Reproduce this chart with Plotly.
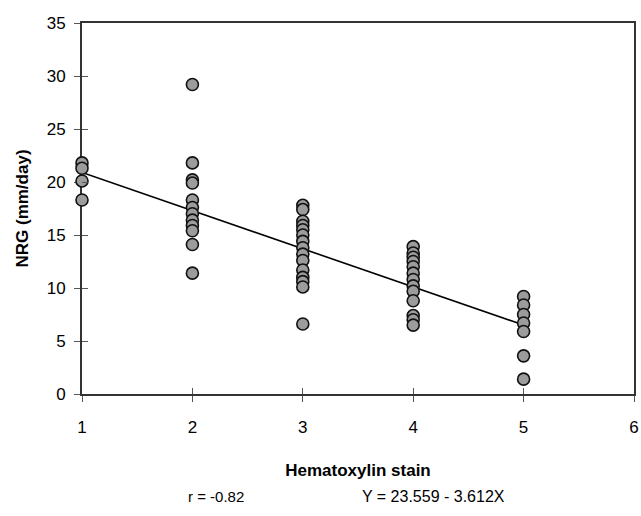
import plotly.graph_objects as go

# Data
stain_levels = [1, 2, 3, 4, 5]
nrg_stain1 = [21.8, 21.3, 20.1, 18.3]
nrg_stain2 = [29.2, 21.8, 20.2, 19.9, 18.3, 17.6, 17.0, 16.4, 15.9, 15.4, 14.1, 11.4]
nrg_stain3 = [17.8, 17.4, 16.3, 15.9, 15.5, 15.0, 14.4, 13.8, 13.2, 12.6, 11.7, 11.0, 10.6, 10.1, 6.6]
nrg_stain4 = [13.9, 13.3, 12.9, 12.5, 12.0, 11.4, 10.8, 10.2, 9.7, 8.8, 7.4, 7.0, 6.5]
nrg_stain5 = [9.2, 8.4, 7.5, 6.7, 5.9, 3.6, 1.4]

fit_x = [1, 5]
fit_y = [20.9, 6.5]

x_ticks = [1, 2, 3, 4, 5, 6]
y_ticks = [0, 5, 10, 15, 20, 25, 30, 35]

groups = [nrg_stain1, nrg_stain2, nrg_stain3, nrg_stain4, nrg_stain5]
xs, ys = [], []
for lvl, vals in zip(stain_levels, groups):
    xs += [lvl] * len(vals)
    ys += vals

fig = go.Figure()
fig.add_trace(go.Scatter(
    x=fit_x, y=fit_y, mode="lines", cliponaxis=False,
    line=dict(color="black", width=1.6), showlegend=False, hoverinfo="skip"))
fig.add_trace(go.Scatter(
    x=xs, y=ys, mode="markers", cliponaxis=False,
    marker=dict(size=12, color="#9c9c9c", line=dict(color="#111111", width=1.6)),
    showlegend=False))

font_family = "Liberation Sans, Arial, sans-serif"
tick_col = "#555555"
fig.update_layout(
    width=641, height=516,
    margin=dict(l=82, r=7, t=23, b=122),
    paper_bgcolor="white", plot_bgcolor="white",
    font=dict(family=font_family, size=17, color="black"),
    xaxis=dict(
        range=[1, 6], tickvals=x_ticks, showgrid=False, zeroline=False,
        showline=True, linecolor="#333333", linewidth=2, mirror=True,
        ticks="outside", ticklen=6, tickcolor=tick_col, tickwidth=1,
        ticklabelstandoff=11, automargin=False, layer="below traces",
        title=dict(text="<b>Hematoxylin stain</b>", font=dict(size=17), standoff=28),
    ),
    yaxis=dict(
        range=[0, 35], tickvals=y_ticks, showgrid=False, zeroline=False,
        showline=True, linecolor="#333333", linewidth=2, mirror=True,
        ticks="outside", ticklen=6, tickcolor=tick_col, tickwidth=1,
        ticklabelstandoff=5, automargin=False, layer="below traces",
        title=dict(text="<b>NRG (mm/day)</b>", font=dict(size=17), standoff=14),
    ),
    xaxis2=dict(
        overlaying="x", anchor="y2", side="bottom", range=[1, 6], tickvals=x_ticks,
        showticklabels=False, showgrid=False, zeroline=False, showline=False,
        ticks="inside", ticklen=6, tickcolor=tick_col, tickwidth=1, automargin=False,
    ),
    yaxis2=dict(
        overlaying="y", anchor="x2", side="left", range=[0, 35], tickvals=y_ticks,
        showticklabels=False, showgrid=False, zeroline=False, showline=False,
        ticks="inside", ticklen=6, tickcolor=tick_col, tickwidth=1, automargin=False,
    ),
    annotations=[
        dict(text="r = -0.82", x=(216 - 82) / 552, y=-0.275, xref="paper", yref="paper",
             showarrow=False, font=dict(size=15), xanchor="center", yanchor="middle"),
        dict(text="Y = 23.559 - 3.612X", x=(434 - 82) / 552, y=-0.275, xref="paper", yref="paper",
             showarrow=False, font=dict(size=16), xanchor="center", yanchor="middle"),
    ],
)
# helper trace on the overlay axes so their crossing tick marks are drawn
fig.add_trace(go.Scatter(x=[1, 6], y=[0, 35], xaxis="x2", yaxis="y2", mode="markers",
                         marker=dict(opacity=0), showlegend=False, hoverinfo="skip"))
fig.write_html("out.html", config={"displayModeBar": False},
               post_script="document.body.style.margin='0';")
